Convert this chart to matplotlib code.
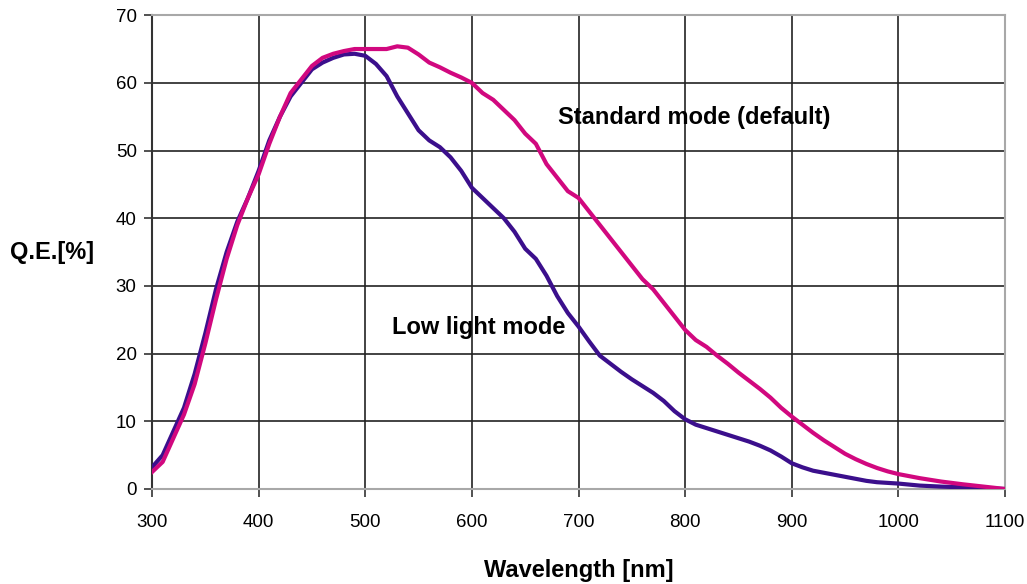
import numpy as np
import matplotlib
matplotlib.use("Agg")
import matplotlib.pyplot as plt

plt.rcParams['font.family'] = ['Liberation Sans', 'DejaVu Sans']

# wavelength grid [nm]
wl = [300, 310, 320, 330, 340, 350, 360, 370, 380, 390, 400, 410, 420, 430, 440,
      450, 460, 470, 480, 490, 500, 510, 520, 530, 540, 550, 560, 570, 580, 590,
      600, 610, 620, 630, 640, 650, 660, 670, 680, 690, 700, 710, 720, 730, 740,
      750, 760, 770, 780, 790, 800, 810, 820, 830, 840, 850, 860, 870, 880, 890,
      900, 910, 920, 930, 940, 950, 960, 970, 980, 990, 1000, 1020, 1040, 1060,
      1080, 1100]

# Q.E. [%] standard mode (default)
qe_standard = [2.5, 4.0, 7.5, 11.0, 15.5, 21.5, 28.0, 34.0, 39.0, 43.0, 46.5, 51.0,
               55.0, 58.5, 60.5, 62.5, 63.7, 64.3, 64.7, 65.0, 65.0, 65.0, 65.0,
               65.4, 65.2, 64.2, 63.0, 62.3, 61.5, 60.8, 60.0, 58.5, 57.5, 56.0,
               54.5, 52.5, 51.0, 48.0, 46.0, 44.0, 43.0, 41.0, 39.0, 37.0, 35.0,
               33.0, 31.0, 29.5, 27.5, 25.5, 23.5, 22.0, 21.0, 19.7, 18.5, 17.2,
               16.0, 14.8, 13.5, 12.0, 10.7, 9.5, 8.3, 7.2, 6.2, 5.2, 4.4, 3.7,
               3.1, 2.6, 2.2, 1.6, 1.1, 0.7, 0.35, 0.0]

# Q.E. [%] low light mode
qe_lowlight = [3.2, 5.0, 8.5, 12.0, 17.0, 23.0, 29.5, 35.0, 39.5, 43.0, 47.0, 51.5,
               55.0, 58.0, 60.0, 62.0, 63.0, 63.7, 64.2, 64.3, 64.0, 62.8, 61.0,
               58.0, 55.5, 53.0, 51.5, 50.5, 49.0, 47.0, 44.5, 43.0, 41.5, 40.0,
               38.0, 35.5, 34.0, 31.5, 28.5, 26.0, 24.0, 21.8, 19.7, 18.5, 17.3,
               16.2, 15.2, 14.2, 13.0, 11.5, 10.3, 9.5, 9.0, 8.5, 8.0, 7.5, 7.0,
               6.4, 5.7, 4.8, 3.8, 3.2, 2.7, 2.4, 2.1, 1.8, 1.5, 1.2, 1.0, 0.9,
               0.8, 0.5, 0.35, 0.25, 0.12, 0.0]

fig = plt.figure(figsize=(10.27, 5.84), dpi=100)
ax = fig.add_axes([0.148, 0.1627, 0.8306, 0.8113])

ax.plot(wl, qe_lowlight, color='#3b0f8c', linewidth=3, zorder=3)
ax.plot(wl, qe_standard, color='#d1087f', linewidth=3, zorder=4)

ax.set_xlim(300, 1100)
ax.set_ylim(0, 70)
ax.set_xticks(np.arange(300, 1101, 100))
ax.set_yticks(np.arange(0, 71, 10))
ax.grid(True, color='#222222', linewidth=1.2)
ax.set_axisbelow(True)

for side in ['top', 'right', 'bottom']:
    ax.spines[side].set_color('#a8a8a8')
    ax.spines[side].set_linewidth(1.5)
ax.spines['left'].set_color('#333333')
ax.spines['left'].set_linewidth(1.5)
ax.tick_params(direction='out', length=6, width=1.2, color='#333333',
               labelsize=13.5)
ax.tick_params(axis='x', pad=12)
ax.tick_params(axis='y', pad=5)

ax.set_xlabel('Wavelength [nm]', fontsize=17, fontweight='bold', labelpad=20)
ax.set_ylabel('Q.E.[%]', fontsize=17, fontweight='bold', rotation=0,
              labelpad=46, va='center')

ax.text(681, 54.9, 'Standard mode (default)', fontsize=17, fontweight='bold',
        va='center', ha='left', zorder=5)
ax.text(525, 23.8, 'Low light mode', fontsize=17, fontweight='bold',
        va='center', ha='left', zorder=5)

fig.savefig('out.png', dpi=100)
